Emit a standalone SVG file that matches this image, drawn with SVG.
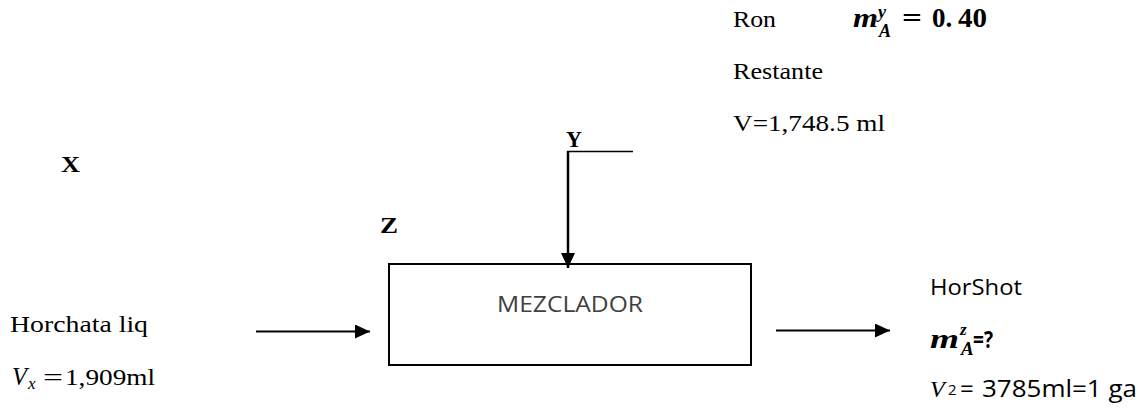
<svg xmlns="http://www.w3.org/2000/svg" width="1145" height="408" viewBox="0 0 1145 408">
  <style>
    .serif{font-family:"Liberation Serif","Times New Roman",serif;font-size:22.5px;fill:#000}
    .tag{font-family:"Liberation Serif","Times New Roman",serif;font-weight:bold;font-size:23px;fill:#000}
    .sans{font-family:"Open Sans","Liberation Sans",sans-serif;fill:#000}
    .math{font-family:"Liberation Serif","Times New Roman",serif;font-weight:bold;font-style:italic;fill:#000}
    .mathup{font-family:"Liberation Serif","Times New Roman",serif;font-weight:bold;fill:#000}
    .ital{font-family:"Liberation Serif","Times New Roman",serif;font-style:italic;fill:#000}
    .wire{stroke:#000;fill:none}
  </style>
  <defs>
    <marker id="head" markerUnits="userSpaceOnUse" markerWidth="16" markerHeight="14" refX="15" refY="7" orient="auto">
      <path d="M0,0 L15,7 L0,14 z" fill="#000"/>
    </marker>
  </defs>

  <rect width="1145" height="408" fill="#fff"/>

  <!-- stream Y: rum feed data -->
  <g id="stream-y-data">
    <text class="serif" x="733" y="27" textLength="43" lengthAdjust="spacingAndGlyphs">Ron</text>
    <text class="math" x="853" y="27" font-size="28" textLength="25" lengthAdjust="spacingAndGlyphs">m</text>
    <text class="math" x="878" y="18" font-size="18">y</text>
    <text class="math" x="879" y="37" font-size="18">A</text>
    <text class="mathup" x="902" y="27" font-size="27" textLength="20" lengthAdjust="spacingAndGlyphs">=</text>
    <text class="mathup" x="932" y="27" font-size="27">0.</text>
    <text class="mathup" x="958" y="27" font-size="27" textLength="29" lengthAdjust="spacingAndGlyphs">40</text>
    <text class="serif" x="733" y="79" textLength="90" lengthAdjust="spacingAndGlyphs">Restante</text>
    <text class="serif" x="733" y="131" textLength="152" lengthAdjust="spacingAndGlyphs">V=1,748.5 ml</text>
  </g>

  <!-- stream labels -->
  <g id="label-y"><text class="tag" x="566" y="147" textLength="16" lengthAdjust="spacingAndGlyphs">Y</text></g>
  <g id="label-x"><text class="tag" x="61" y="172" textLength="19" lengthAdjust="spacingAndGlyphs">X</text></g>
  <g id="label-z"><text class="tag" x="380" y="233" textLength="18" lengthAdjust="spacingAndGlyphs">Z</text></g>

  <!-- mixer unit -->
  <g id="mezclador">
    <rect x="389" y="264" width="362" height="101" fill="#fff" stroke="#000" stroke-width="2"/>
    <text class="sans" x="497" y="312" font-size="22" style="fill:#404040" textLength="146" lengthAdjust="spacingAndGlyphs">MEZCLADOR</text>
  </g>

  <!-- stream X: horchata feed data -->
  <g id="stream-x-data">
    <text class="serif" x="10" y="332" textLength="138" lengthAdjust="spacingAndGlyphs">Horchata liq</text>
    <text class="ital" x="12" y="385" font-size="26" textLength="15" lengthAdjust="spacingAndGlyphs">V</text>
    <text class="ital" x="28" y="389" font-size="17">x</text>
    <text class="serif" x="43" y="385" font-size="26" textLength="20" lengthAdjust="spacingAndGlyphs">=</text>
    <text class="serif" x="65" y="385" textLength="90" lengthAdjust="spacingAndGlyphs">1,909ml</text>
  </g>

  <!-- stream Z: product data -->
  <g id="stream-z-data">
    <text class="sans" x="930" y="295" font-size="22" textLength="92" lengthAdjust="spacingAndGlyphs">HorShot</text>
    <text class="math" x="930" y="348" font-size="28" textLength="29" lengthAdjust="spacingAndGlyphs">m</text>
    <text class="math" x="960" y="335" font-size="17">z</text>
    <text class="math" x="961" y="355" font-size="19">A</text>
    <text class="sans" x="973" y="348" font-size="24" font-weight="bold" textLength="20" lengthAdjust="spacingAndGlyphs">=?</text>
    <text class="ital" x="930" y="397" font-size="24">V</text>
    <text class="sans" x="948" y="395" font-size="15">2</text>
    <text class="sans" x="960" y="397" font-size="24">=</text>
    <text class="sans" x="982" y="397" font-size="24" textLength="155" lengthAdjust="spacingAndGlyphs">3785ml=1 ga</text>
  </g>

  <!-- connectors -->
  <g id="connectors">
    <line class="wire" x1="567" y1="151.5" x2="633" y2="151.5" stroke-width="1.5"/>
    <line class="wire" x1="568" y1="151" x2="568" y2="268" stroke-width="2.5" marker-end="url(#head)"/>
    <line class="wire" x1="256" y1="331.5" x2="370" y2="331.5" stroke-width="2.2" marker-end="url(#head)"/>
    <line class="wire" x1="776" y1="330.5" x2="890" y2="330.5" stroke-width="2.2" marker-end="url(#head)"/>
  </g>
</svg>
